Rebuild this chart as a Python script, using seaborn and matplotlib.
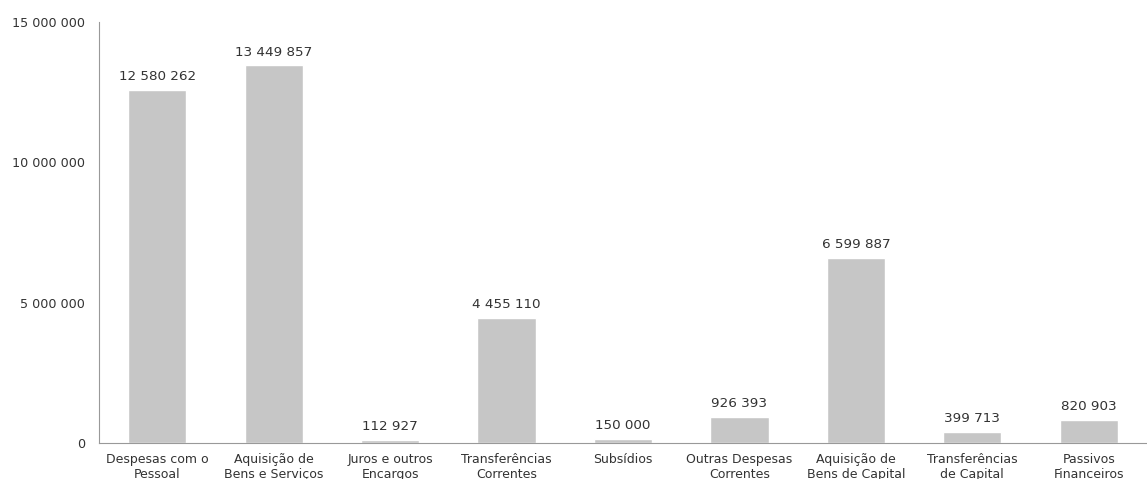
import numpy as np
import pandas as pd
import seaborn as sns
import matplotlib.pyplot as plt
from matplotlib.ticker import FuncFormatter, FixedLocator

categories = [
    "Despesas com o\nPessoal",
    "Aquisição de\nBens e Serviços",
    "Juros e outros\nEncargos",
    "Transferências\nCorrentes",
    "Subsídios",
    "Outras Despesas\nCorrentes",
    "Aquisição de\nBens de Capital",
    "Transferências\nde Capital",
    "Passivos\nFinanceiros",
]
values = [12580262, 13449857, 112927, 4455110, 150000, 926393, 6599887, 399713, 820903]
y_ticks = [0, 5000000, 10000000, 15000000]


def fmt_space(v, pos=None):
    return f"{int(round(v)):,}".replace(",", " ")


df = pd.DataFrame({"categoria": categories, "valor": values})

sns.set_style("white")
plt.rcParams["font.family"] = ["DejaVu Sans"]

fig = plt.figure(figsize=(11.47, 4.79), dpi=100)
ax = fig.add_axes([0.0863, 0.0752, 0.9137, 0.879])

sns.barplot(data=df, x="categoria", y="valor", color="#c6c6c6", width=0.5,
            saturation=1, ax=ax)

ax.set_ylim(0, 15000000)
ax.set_xlim(-0.5, len(categories) - 0.5)
ax.yaxis.set_major_locator(FixedLocator(y_ticks))
ax.yaxis.set_major_formatter(FuncFormatter(fmt_space))
ax.set_xlabel("")
ax.set_ylabel("")

# category boundary ticks on the x axis
ax.xaxis.set_minor_locator(FixedLocator(np.arange(-0.5, len(categories), 1.0)))
ax.tick_params(axis="x", which="major", length=0, pad=7, labelsize=9, labelcolor="#333333")
ax.tick_params(axis="x", which="minor", length=4, width=0.8, color="#999999", direction="out")
ax.tick_params(axis="y", which="major", length=4, width=0.8, color="#999999", direction="out",
               labelsize=9.2, labelcolor="#333333", pad=6)

for side in ["top", "right"]:
    ax.spines[side].set_visible(False)
for side in ["left", "bottom"]:
    ax.spines[side].set_color("#999999")
    ax.spines[side].set_linewidth(0.8)

for container in ax.containers:
    ax.bar_label(container, labels=[fmt_space(v) for v in values], padding=5,
                 fontsize=9.7, color="#333333")

fig.savefig("out.png", dpi=100)
